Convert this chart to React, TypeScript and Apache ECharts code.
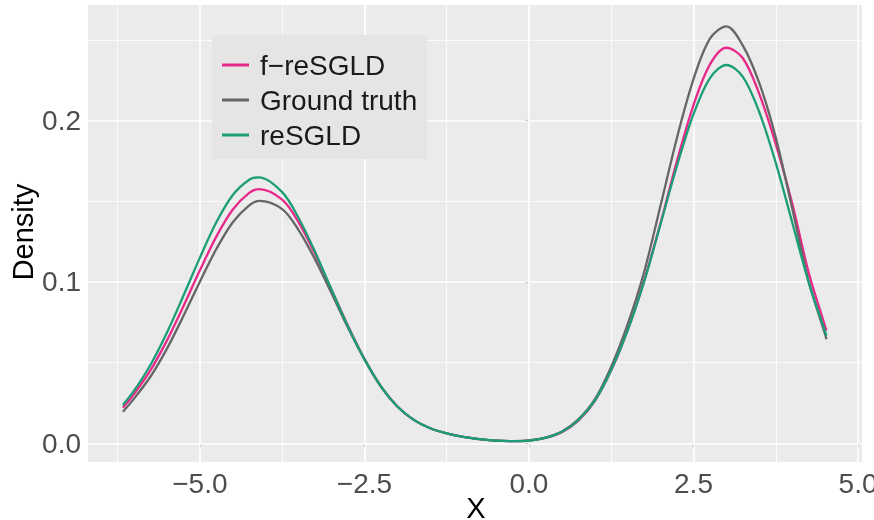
import React, { useEffect, useRef } from "react";
import * as echarts from "echarts";

const xValues = [
  -6.17, -6.0, -5.75, -5.5, -5.25, -5.0, -4.75, -4.5, -4.25, -4.1,
  -3.75, -3.5, -3.25, -3.0, -2.75, -2.5, -2.25, -2.0, -1.75, -1.5,
  -1.25, -1.0, -0.75, -0.5, -0.25, 0, 0.25, 0.5, 0.75, 1.0,
  1.25, 1.5, 1.75, 2.0, 2.25, 2.5, 2.75, 3.0, 3.25, 3.5,
  3.75, 4.0, 4.25, 4.5, 4.52,
];

const fReSGLD = [
  0.022, 0.0305, 0.0453, 0.0638, 0.085, 0.1072, 0.1281, 0.1449, 0.1552, 0.1576,
  0.151, 0.137, 0.1174, 0.0952, 0.0728, 0.0523, 0.0353, 0.0228, 0.0145, 0.0093,
  0.0061, 0.004, 0.0026, 0.0016, 0.0013, 0.0017, 0.0033, 0.0069, 0.014, 0.0262,
  0.0452, 0.0702, 0.1007, 0.1367, 0.1752, 0.2097, 0.2349, 0.2452, 0.2387, 0.2165,
  0.1855, 0.1486, 0.1058, 0.0724, 0.0698,
];

const groundTruth = [
  0.0195, 0.0277, 0.0414, 0.0587, 0.0789, 0.1002, 0.1204, 0.137, 0.1475, 0.1503,
  0.1452, 0.1322, 0.114, 0.093, 0.0716, 0.052, 0.0352, 0.0228, 0.0145, 0.0093,
  0.0061, 0.004, 0.0026, 0.0016, 0.0013, 0.0018, 0.0035, 0.0073, 0.0148, 0.0272,
  0.0475, 0.0738, 0.1062, 0.1475, 0.1896, 0.2258, 0.2509, 0.2585, 0.2465, 0.2232,
  0.1895, 0.1455, 0.1003, 0.0675, 0.0645,
];

const reSGLD = [
  0.0238, 0.0326, 0.0487, 0.0687, 0.0915, 0.1151, 0.137, 0.1539, 0.1634, 0.1649,
  0.1557, 0.1397, 0.1187, 0.0953, 0.0724, 0.0522, 0.0353, 0.0228, 0.0145, 0.0093,
  0.0061, 0.004, 0.0026, 0.0016, 0.0013, 0.0017, 0.0034, 0.0071, 0.0143, 0.0264,
  0.0455, 0.07, 0.1002, 0.136, 0.1722, 0.204, 0.2264, 0.2345, 0.2272, 0.2052,
  0.1738, 0.1369, 0.0998, 0.0692, 0.0668,
];

const xTicks = [-5, -2.5, 0, 2.5, 5];
const xMinor = [-6.25, -3.75, -1.25, 1.25, 3.75];
const yTicks = [0, 0.1, 0.2];
const yMinor = [0.05, 0.15, 0.25];
const seriesNames = ["f\u2212reSGLD", "Ground truth", "reSGLD"];
const seriesColors = ["#E7298A", "#666666", "#1B9E77"];

export default function App() {
  const ref = useRef<HTMLDivElement>(null);

  useEffect(() => {
    if (!ref.current) return;
    const chart = echarts.init(ref.current, null, { renderer: "svg" });
    const font = "'Liberation Sans', Arial, Helvetica, sans-serif";
    const fmt = (v: number) => (v < 0 ? "\u2212" + Math.abs(v).toFixed(1) : v.toFixed(1));
    const allSeries = [fReSGLD, groundTruth, reSGLD];

    const gridLines: any[] = [
      ...xMinor.map((v) => ({ xAxis: v, lineStyle: { width: 0.8, color: "#FFFFFF", type: "solid" } })),
      ...yMinor.map((v) => ({ yAxis: v, lineStyle: { width: 0.8, color: "#FFFFFF", type: "solid" } })),
      ...xTicks.map((v) => ({ xAxis: v, lineStyle: { width: 1.6, color: "#FFFFFF", type: "solid" } })),
      ...yTicks.map((v) => ({ yAxis: v, lineStyle: { width: 1.6, color: "#FFFFFF", type: "solid" } })),
    ];

    chart.setOption({
      animation: false,
      textStyle: { fontFamily: font },
      grid: {
        left: 88,
        right: 12,
        top: 5,
        bottom: 58,
        show: true,
        backgroundColor: "#EBEBEB",
        borderWidth: 0,
        containLabel: false,
        outerBoundsMode: "none",
      },
      xAxis: {
        type: "value",
        min: -6.7,
        max: 5.06,
        axisLine: { show: false },
        splitLine: { show: false },
        axisTick: {
          show: true,
          customValues: xTicks,
          length: 4,
          lineStyle: { color: "#333333", width: 1.1 },
        },
        axisLabel: {
          customValues: xTicks,
          formatter: fmt,
          fontSize: 28,
          color: "#4D4D4D",
          margin: 7,
          fontFamily: font,
        },
      },
      yAxis: {
        type: "value",
        min: -0.0116,
        max: 0.2717,
        axisLine: { show: false },
        splitLine: { show: false },
        axisTick: {
          show: true,
          customValues: yTicks,
          length: 4,
          lineStyle: { color: "#333333", width: 1.1 },
        },
        axisLabel: {
          customValues: yTicks,
          formatter: (v: number) => v.toFixed(1),
          fontSize: 28,
          color: "#4D4D4D",
          margin: 7,
          fontFamily: font,
        },
      },
      legend: {
        orient: "vertical",
        left: 212,
        top: 35,
        z: 20,
        padding: [15, 10, 9, 10],
        backgroundColor: "#E5E5E5",
        itemWidth: 27,
        itemHeight: 3,
        itemGap: 5,
        icon: "rect",
        data: seriesNames,
        textStyle: {
          fontSize: 28,
          color: "#1A1A1A",
          lineHeight: 30,
          padding: [0, 0, 0, 6],
          fontFamily: font,
        },
      },
      graphic: [
        {
          type: "text",
          x: 23,
          y: 232,
          rotation: Math.PI / 2,
          style: {
            text: "Density",
            fontSize: 29,
            fill: "#000000",
            align: "center",
            verticalAlign: "middle",
            fontFamily: font,
          },
        },
        {
          type: "text",
          x: 476,
          y: 508,
          style: {
            text: "X",
            fontSize: 29,
            fill: "#000000",
            align: "center",
            verticalAlign: "middle",
            fontFamily: font,
          },
        },
      ],
      series: [
        {
          name: "grid",
          type: "line",
          data: [],
          silent: true,
          z: 1,
          markLine: {
            z: 1,
            silent: true,
            symbol: ["none", "none"],
            label: { show: false },
            emphasis: { disabled: true },
            data: gridLines,
          },
        },
        ...seriesNames.map((name, i) => ({
          name,
          type: "line",
          z: 3 + i,
          data: xValues.map((x, j) => [x, allSeries[i][j]]),
          showSymbol: false,
          symbol: "none",
          smooth: 0.33,
          color: seriesColors[i],
          lineStyle: { color: seriesColors[i], width: 2.3 },
          emphasis: { disabled: true },
        })),
      ],
    });

    return () => chart.dispose();
  }, []);

  return (
    <div
      ref={ref}
      style={{ position: "fixed", left: 0, top: 0, width: 874, height: 520 }}
    />
  );
}
